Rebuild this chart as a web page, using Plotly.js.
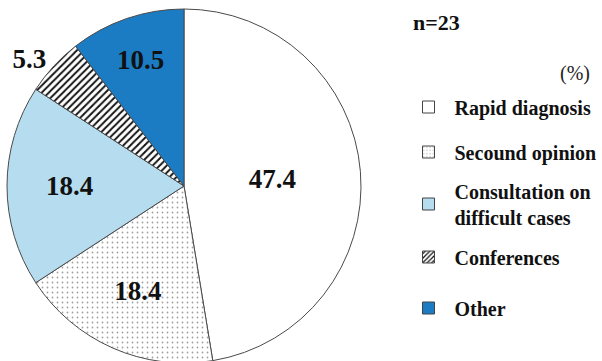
<!DOCTYPE html>
<html>
<head>
<meta charset="utf-8">
<script src="https://cdn.plot.ly/plotly-3.0.1.min.js"></script>
<style>
html, body { margin: 0; padding: 0; overflow: hidden; background: #fff; }
#chart { width: 602px; height: 368px; }
</style>
</head>
<body>
<div id="chart"></div>
<script>
// Data
var categories = ['Rapid diagnosis', 'Secound opinion', 'Consultation on<br>difficult cases', 'Conferences', 'Other'];
var shares = [47.4, 18.4, 18.4, 5.3, 10.5];
var sampleSize = 23;

// Styles
var fillColors = ['#ffffff', '#ffffff', '#b5dcef', '#ffffff', '#1b7cc4'];
var patternShapes = ['', '.', '', '/', ''];
var patternFg = ['#000', '#a0a0a0', '#000', '#111', '#000'];
var patternSize = [6, 5, 6, 5, 6];
var patternSolidity = [0.3, 0.1, 0.3, 0.38, 0.3];
var textPositions = ['inside', 'inside', 'inside', 'outside', 'inside'];
var legendCentersPx = [107, 152, 204, 257, 308];

var serifFamily = 'Liberation Serif, Times New Roman, Tinos, serif';
var serifBold = {family: serifFamily, weight: 'bold', color: '#111'};
var H = 368;

var pie = {
  type: 'pie',
  labels: categories,
  values: shares,
  sort: false,
  direction: 'clockwise',
  rotation: 0,
  showlegend: false,
  hole: 0,
  domain: {x: [7/602, 361/602], y: [1 - 363/H, 1 - 9/H]},
  marker: {
    colors: fillColors,
    line: {color: '#4a4a4a', width: 1},
    pattern: {shape: patternShapes, fgcolor: patternFg, bgcolor: fillColors, size: patternSize, solidity: patternSolidity}
  },
  texttemplate: '%{value}',
  textposition: textPositions,
  insidetextorientation: 'horizontal',
  textfont: Object.assign({size: 27}, serifBold),
  outsidetextfont: Object.assign({size: 27}, serifBold),
  hoverinfo: 'label+value'
};

var traces = [pie];
var layout = {
  width: 602,
  height: H,
  margin: {l: 0, r: 0, t: 0, b: 0},
  paper_bgcolor: '#fff',
  plot_bgcolor: '#fff',
  font: {family: serifFamily},
  xaxis: {visible: false, domain: [0.99, 1], range: [-20, -10], fixedrange: true},
  yaxis: {visible: false, domain: [0.99, 1], range: [-20, -10], fixedrange: true},
  showlegend: true,
  annotations: [
    {text: 'n=' + sampleSize, xref: 'paper', yref: 'paper', x: 411/602, y: 1 - 22/H, xanchor: 'left', yanchor: 'middle', showarrow: false, font: Object.assign({size: 22}, serifBold)},
    {text: '(%)', xref: 'paper', yref: 'paper', x: 592/602, y: 1 - 73/H, xanchor: 'right', yanchor: 'middle', showarrow: false, font: {family: serifFamily, size: 20, color: '#222'}}
  ]
};

// one legend per category, so each entry sits at its own height
for (var i = 0; i < categories.length; i++) {
  var legendId = i === 0 ? 'legend' : 'legend' + (i + 1);
  traces.push({
    type: 'bar',
    x: [i],
    y: [shares[i]],
    name: categories[i],
    legend: legendId,
    showlegend: true,
    hoverinfo: 'skip',
    marker: {
      color: fillColors[i],
      line: {color: '#444', width: 1},
      pattern: {shape: patternShapes[i], fgcolor: patternFg[i], bgcolor: fillColors[i], size: 4, solidity: patternSolidity[i]}
    }
  });
  layout[legendId] = {
    x: 402.5/602, xanchor: 'left',
    y: 1 - legendCentersPx[i]/H, yanchor: 'middle',
    font: Object.assign({size: 20}, serifBold),
    itemwidth: 42,
    bgcolor: 'rgba(0,0,0,0)',
    borderwidth: 0
  };
}

Plotly.newPlot('chart', traces, layout, {displayModeBar: false, staticPlot: true});
</script>
</body>
</html>
